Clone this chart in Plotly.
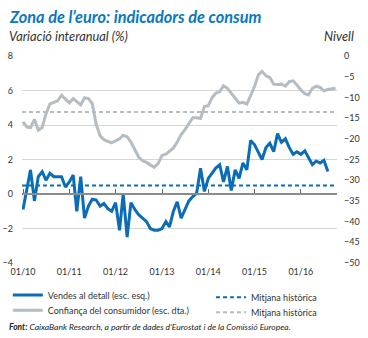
import pandas as pd
import plotly.graph_objects as go

# ---- data ----
retail_sales = [
    -0.9, 0.3, 1.4, -0.4, 1.0, 1.3, 0.8, 1.2, 1.0, 1.0, 1.0, 0.4,
    0.7, 1.1, -1.0, 1.0, -1.4, -0.7, -0.3, -0.35, -0.7, -0.55, -0.85, -1.0,
    -0.5, -2.1, 0.0, -2.5, -0.5, -0.9, -1.2, -1.4, -1.6, -2.0, -2.1, -2.1,
    -2.0, -1.6, -1.9, -1.0, -0.45, -1.4, -0.95, -0.4, -0.15, 0.05, 1.5, 0.15,
    0.9, 1.2, 1.5, 1.7, 0.7, 1.6, 0.2, 1.4, 0.9, 1.8, 1.4, 3.1,
    2.85, 2.4, 2.0, 2.7, 2.95, 2.45, 3.5, 3.0, 3.2, 2.7, 2.3, 2.45,
    2.3, 2.5, 2.1, 1.7, 1.9, 1.8, 1.95, 1.3,
]
consumer_confidence = [
    -15.9, -17.2, -17.3, -15.3, -17.9, -17.3, -14.0, -11.6, -11.2, -10.8, -9.5, -10.5,
    -11.3, -10.3, -11.0, -11.8, -10.1, -10.3, -11.5, -16.5, -19.3, -20.2, -20.6, -21.0,
    -20.5, -20.0, -19.2, -19.5, -20.8, -22.8, -24.4, -25.3, -25.7, -26.3, -26.9, -26.0,
    -24.0, -23.7, -22.9, -22.2, -20.8, -19.0, -17.8, -16.2, -14.9, -14.9, -15.1, -12.2,
    -12.0, -10.0, -9.0, -8.6, -7.2, -7.8, -9.0, -10.0, -11.4, -11.2, -11.6, -9.6,
    -7.3, -4.5, -3.7, -4.8, -5.2, -6.8, -6.9, -6.8, -7.3, -6.2, -6.0, -7.0,
    -8.2, -9.1, -9.4, -7.8, -7.3, -7.6, -8.4, -8.1, -8.0, -7.8,
]
retail_mean = 0.5
confidence_mean = -13.5
start_month = "2010-01-01"
x_range = ["2009-12-24", "2016-10-12"]
left_range = [-4, 8]
right_range = [-50, 0]

dates_retail = pd.date_range(start_month, periods=len(retail_sales), freq="MS")
dates_conf = pd.date_range(start_month, periods=len(consumer_confidence), freq="MS")

BLUE = "#0a6db5"
GRAY = "#b3bdc3"
GRAY_DASH = "#b5bdc2"
TEXT = "#333333"
FONT = "Lato"

fig = go.Figure()

fig.add_trace(go.Scatter(
    x=dates_conf, y=consumer_confidence, yaxis="y2", mode="lines",
    line=dict(color=GRAY, width=3), name="Confiança del consumidor (esc. dta.)",
    legend="legend2",
))
fig.add_trace(go.Scatter(
    x=x_range, y=[confidence_mean, confidence_mean], yaxis="y2", mode="lines",
    line=dict(color=GRAY_DASH, width=2, dash="4px,3px"), name="Mitjana històrica",
    legend="legend4",
))
fig.add_trace(go.Scatter(
    x=x_range, y=[retail_mean, retail_mean], mode="lines",
    line=dict(color=BLUE, width=2, dash="4px,3px"), name="Mitjana històrica",
    legend="legend3",
))
fig.add_trace(go.Scatter(
    x=dates_retail, y=retail_sales, mode="lines",
    line=dict(color=BLUE, width=3), name="Vendes al detall (esc. esq.)",
    legend="legend",
))
# invisible trace to carry the tick axis on the zero line
fig.add_trace(go.Scatter(x=[x_range[0]], y=[None], xaxis="x2", yaxis="y",
                         showlegend=False, hoverinfo="skip"))

leg_font = dict(family=FONT, size=9, color=TEXT)
def leg(x, y):
    return dict(x=x, y=y, xanchor="left", yanchor="top", bgcolor="rgba(0,0,0,0)",
                font=leg_font, borderwidth=0, itemwidth=30,
                tracegroupgap=0)

fig.update_layout(
    template="none",
    width=368, height=338,
    margin=dict(l=22, r=31, t=56, b=75, autoexpand=False),
    paper_bgcolor="white", plot_bgcolor="white",
    font=dict(family=FONT, size=9, color=TEXT),
    showlegend=True,
    legend=leg(-0.045, -0.085),
    legend2=leg(-0.045, -0.158),
    legend3=leg(0.60, -0.095),
    legend4=leg(0.60, -0.168),
    xaxis=dict(
        type="date", range=x_range, tick0=start_month, dtick="M12",
        tickformat="%m/%y", showgrid=False, zeroline=False, showline=False,
        ticks="", automargin=False, ticklabelstandoff=2,
        tickfont=dict(family=FONT, size=9, color=TEXT),
    ),
    xaxis2=dict(
        type="date", range=x_range, tick0=start_month, dtick="M12",
        overlaying="x", anchor="free", automargin=False,
        position=(0 - left_range[0]) / (left_range[1] - left_range[0]),
        showticklabels=False, showgrid=False, zeroline=False,
        showline=True, linecolor="#8c8c8c", linewidth=1.5,
        ticks="inside", ticklen=4, tickwidth=1, tickcolor="#666666",
    ),
    yaxis=dict(
        range=left_range, dtick=2, showgrid=True, gridcolor="#d6d6d6", gridwidth=1,
        zeroline=False,
        showline=False, ticks="", ticklabelstandoff=8, automargin=False,
        tickfont=dict(family=FONT, size=9, color=TEXT),
    ),
    yaxis2=dict(
        range=right_range, dtick=5, overlaying="y", side="right",
        showgrid=False, zeroline=False, showline=False, ticks="", automargin=False,
        ticklabelstandoff=6, tickfont=dict(family=FONT, size=9, color=TEXT),
    ),
    annotations=[
        dict(text="Zona de l\u2019euro: indicadors de consum", xref="paper", yref="paper",
             x=-15 / 315, y=1 + 40 / 207, xanchor="left", yanchor="middle", showarrow=False,
             font=dict(family=FONT, size=16.3, color="#0a78c2", weight="bold", style="italic")),
        dict(text="Variació interanual (%)", xref="paper", yref="paper",
             x=-15 / 315, y=1 + 20 / 207, xanchor="left", yanchor="middle", showarrow=False,
             font=dict(family=FONT, size=12.8, color=TEXT, style="italic")),
        dict(text="Nivell", xref="paper", yref="paper",
             x=1 + 19 / 315, y=1 + 20 / 207, xanchor="right", yanchor="middle", showarrow=False,
             font=dict(family=FONT, size=12.8, color=TEXT, style="italic")),
        dict(text="<b>Font:</b> CaixaBank Research, a partir de dades d\u2019Eurostat i de la Comissió Europea.",
             xref="paper", yref="paper",
             x=-15 / 315, y=-64 / 207, xanchor="left", yanchor="middle", showarrow=False,
             font=dict(family=FONT, size=8.5, color="#222222", style="italic")),
    ],
)

fig.write_html("out.html")
